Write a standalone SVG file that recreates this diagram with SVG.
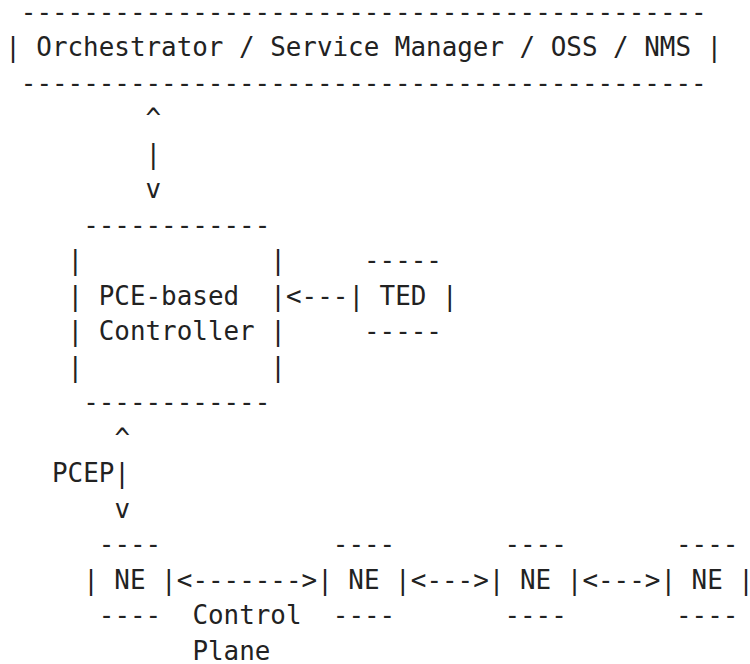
<svg xmlns="http://www.w3.org/2000/svg" width="750" height="664" viewBox="0 0 750 664">
<style>
.t{font-family:"DejaVu Sans Mono","Liberation Mono",monospace;font-size:25.9px;fill:#222;white-space:pre}
</style>
<rect width="750" height="664" fill="#fff"/>
<g id="orchestrator">
<text class="t" x="20.8" y="20.8">--------------------------------------------</text>
<text class="t" x="5.2" y="56.3">| Orchestrator / Service Manager / OSS / NMS |</text>
<text class="t" x="20.8" y="91.8">--------------------------------------------</text>
</g>
<g id="controller">
<text class="t" x="83.2" y="233.8">------------</text>
<text class="t" x="67.6" y="269.3" xml:space="preserve">|            |</text>
<text class="t" x="67.6" y="304.8" xml:space="preserve">| PCE-based  |</text>
<text class="t" x="67.6" y="340.3" xml:space="preserve">| Controller |</text>
<text class="t" x="67.6" y="375.8" xml:space="preserve">|            |</text>
<text class="t" x="83.2" y="411.3">------------</text>
</g>
<g id="ted">
<text class="t" x="364.0" y="269.3">-----</text>
<text class="t" x="348.4" y="304.8" xml:space="preserve">| TED |</text>
<text class="t" x="364.0" y="340.3">-----</text>
</g>
<g id="ne1">
<text class="t" x="98.8" y="553.3">----</text>
<text class="t" x="83.2" y="588.8" xml:space="preserve">| NE |</text>
<text class="t" x="98.8" y="624.3">----</text>
</g>
<g id="ne2">
<text class="t" x="332.8" y="553.3">----</text>
<text class="t" x="317.2" y="588.8" xml:space="preserve">| NE |</text>
<text class="t" x="332.8" y="624.3">----</text>
</g>
<g id="ne3">
<text class="t" x="504.4" y="553.3">----</text>
<text class="t" x="488.8" y="588.8" xml:space="preserve">| NE |</text>
<text class="t" x="504.4" y="624.3">----</text>
</g>
<g id="ne4">
<text class="t" x="676.0" y="553.3">----</text>
<text class="t" x="660.4" y="588.8" xml:space="preserve">| NE |</text>
<text class="t" x="676.0" y="624.3">----</text>
</g>
<g id="connectors">
<text class="t" x="145.6" y="127.3">^</text>
<text class="t" x="145.6" y="162.8">|</text>
<text class="t" x="145.6" y="198.3">v</text>
<text class="t" x="286.0" y="304.8">&lt;---</text>
<text class="t" x="114.4" y="446.8">^</text>
<text class="t" x="52.0" y="482.3">PCEP|</text>
<text class="t" x="114.4" y="517.8">v</text>
<text class="t" x="176.8" y="588.8">&lt;-------&gt;</text>
<text class="t" x="410.8" y="588.8">&lt;---&gt;</text>
<text class="t" x="582.4" y="588.8">&lt;---&gt;</text>
<text class="t" x="192.4" y="624.3">Control</text>
<text class="t" x="192.4" y="659.8">Plane</text>
</g>
</svg>
